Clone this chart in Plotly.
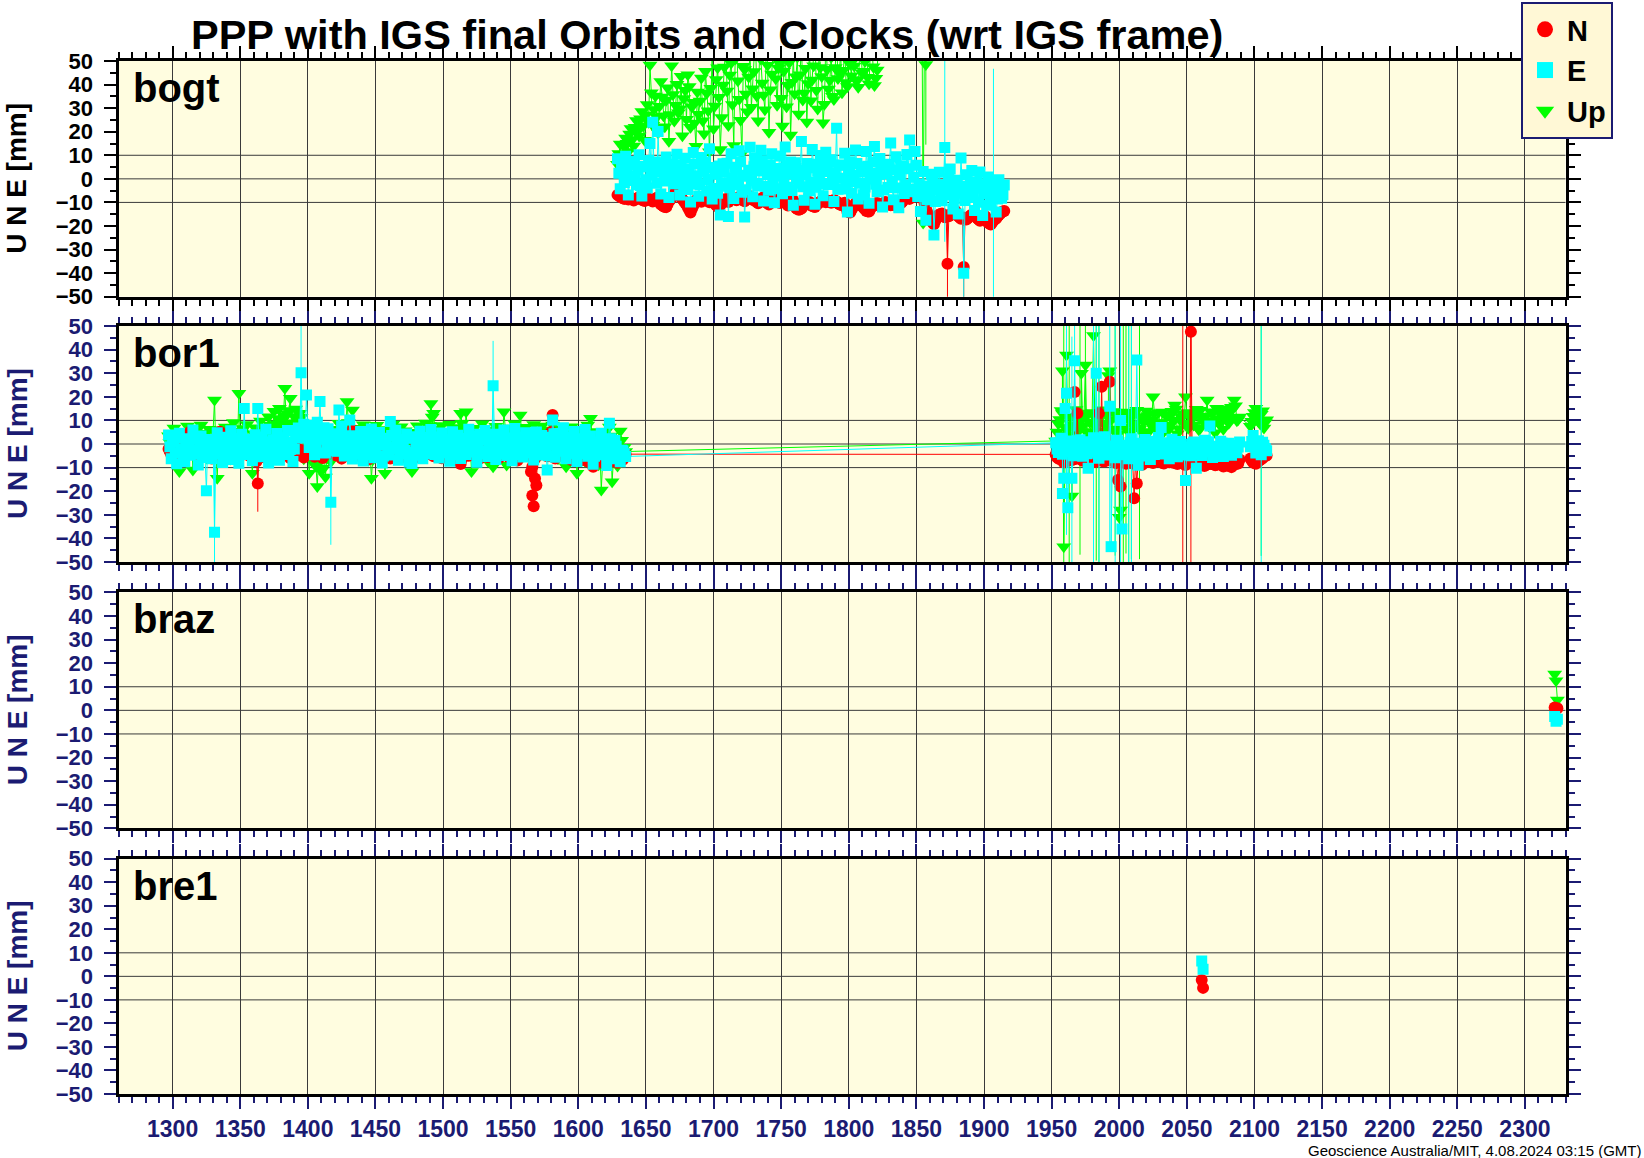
import plotly.graph_objects as go

# ---------------- data (day number, mm) ----------------
# bogt: even grid from day 1629 and odd grid from day 1630, every 2 days
bogt_start, bogt_odd_start = 1629, 1630
bogt_n = [-6.8, -7.6, -8.2, -7.4, -8.8, -8.0, -9.2, -8.4, -7.8, -8.9,
          -9.4, -8.2, -8.7, -9.6, -8.3, -7.9, -10.8, -11.6, -12.0, -9.5,
          -8.1, -6.3, -5.8, -7.2, -8.6, -10.2, -12.1, -14.3, -11.5, -9.2,
          -8.4, -9.7, -7.6, -8.8, -9.9, -8.1, -10.6, -11.8, -11.2, -9.4,
          -8.6, -9.8, -7.9, -8.3, -9.1, -7.7, -8.8, -9.5, -8.2, -7.4,
          -8.9, -9.3, -10.4, -8.6, -7.8, -9.9, -10.9, -9.1, -8.3, -9.6,
          -10.2, -8.7, -9.4, -11.3, -10.5, -9.2, -12.4, -13.1, -12.6, -11.0,
          -10.3, -9.8, -11.5, -11.9, -10.6, -9.7, -8.9, -9.9, -9.3, -10.1,
          -9.0, -9.6, -10.8, -11.2, -10.1, -13.9, -14.3, -12.2, -10.4, -9.7,
          -11.0, -12.3, -13.6, -13.9, -11.8, -10.9, -10.2, -11.5, -11.1, -9.8,
          -10.4, -11.2, -10.7, -11.4, -9.6, -10.1, -8.7, -8.0, -8.5, -7.6,
          -5.6, -6.9, -7.8, -8.3, -12.4, -15.8, -17.6, -19.3, -16.2, -15.1,
          -14.7, -16.3, -36.0, -15.4, -14.2, -13.6, -15.8, -16.9, -37.4, -17.2,
          -16.1, -15.2, -14.6, -16.7, -17.8, -16.4, -15.9, -18.6, -19.4, -17.7,
          -16.8, -15.3, -14.2, -13.6]
bogt_n_odd = [-7.2, -7.9, -8.5, -8.1, -8.4, -8.7, -8.8, -8.1, -8.3, -9.0,
              -8.8, -8.5, -9.1, -9.0, -8.1, -9.2, -11.2, -11.9, -10.8, -8.9,
              -7.2, -6.0, -6.5, -7.9, -9.4, -11.0, -13.2, -12.8, -10.3, -8.8,
              -9.0, -8.6, -8.2, -9.3, -9.0, -9.4, -11.2, -11.5, -10.3, -9.0,
              -9.2, -8.8, -8.1, -8.7, -8.4, -8.3, -9.1, -8.9, -7.8, -8.1,
              -9.1, -9.8, -9.5, -8.2, -8.8, -10.4, -10.0, -8.7, -9.0, -9.9,
              -9.4, -9.0, -10.3, -10.9, -9.8, -10.8, -12.8, -12.9, -11.8, -10.6,
              -10.0, -10.6, -11.7, -11.2, -10.1, -9.3, -9.4, -9.6, -9.7, -9.5,
              -9.3, -10.2, -11.0, -10.6, -12.0, -14.1, -13.2, -11.3, -10.0, -10.4,
              -11.7, -12.9, -13.8, -12.8, -11.3, -10.5, -10.9, -11.3, -10.4, -10.1,
              -10.8, -10.9, -11.1, -10.5, -9.8, -9.4, -8.3, -8.2, -8.0, -6.6,
              -6.2, -7.3, -8.0, -10.2, -14.1, -16.7, -18.5, -17.8, -15.6, -14.9,
              -15.5, -15.8, -15.9, -14.8, -13.9, -14.7, -16.4, -16.3, -16.6, -16.6,
              -15.6, -14.9, -15.7, -17.3, -17.1, -16.1, -17.2, -19.0, -18.5, -17.2,
              -16.0, -14.8, -13.9]
bogt_e = [8.5, -4.2, 3.1, 9.6, -6.8, 1.2, 7.4, -2.5, 10.2, -7.3,
          5.1, -3.9, 15.0, 24.0, 7.2, 20.1, -6.4, 3.5, 9.3, -7.9,
          6.2, -2.1, 10.4, -6.9, 1.8, 8.7, -4.5, -9.8, 11.2, 0.6,
          -7.4, 9.1, 3.3, -5.2, 12.8, -8.6, 2.4, -6.1, -15.3, 6.4,
          -3.1, -16.0, 10.7, -8.3, 4.2, 11.9, -5.7, -16.2, 1.5, 13.4,
          -7.6, 8.8, -2.9, 12.1, -9.4, 5.3, -4.8, 10.6, -10.1, 2.7,
          9.7, -6.3, 13.5, -3.6, 7.1, -11.2, 4.4, -1.9, 15.8, -9.1,
          6.5, -5.1, 12.4, -10.8, 3.2, 9.9, -7.2, 11.3, -2.4, 8.1,
          -9.6, 21.5, 5.8, -4.3, 10.9, -14.1, 7.3, -1.1, 12.2, -8.5,
          4.9, -6.8, 11.6, -10.4, 2.3, 13.7, -5.5, 8.6, -11.9, 6.2,
          -3.7, 15.2, -8.9, 9.4, -12.3, 5.6, -6.2, 10.3, 16.5, -4.4,
          11.6, -7.5, -13.8, 3.1, -17.6, -6.4, 1.9, -23.8, -4.6, 2.8,
          -9.3, 13.3, -2.7, 4.2, -12.8, -0.6, -14.9, 8.8, -40.0, 1.7,
          -7.9, 3.5, -13.4, -1.2, 2.9, -15.6, -4.8, 0.8, -10.7, -3.3,
          -14.1, -0.4, -8.2, -2.6]
bogt_e_odd = [2.4, 5.8, -1.6, 4.3, -0.7, 6.1, 0.2, 3.9, -2.8, 5.2,
              -0.4, 7.8, 1.6, 4.9, -1.9, 2.8, 6.4, -0.9, 3.7, 0.8,
              4.5, -1.2, 2.6, 5.9, -3.4, 0.7, 4.1, -2.2, 6.3, 1.3,
              -2.6, 3.2, 7.1, -0.3, 4.8, -4.1, 1.9, 5.5, -1.7, 2.9,
              6.6, -3.8, 0.4, 4.9, -2.5, 7.3, 1.1, -4.6, 3.6, -0.8,
              5.1, -1.9, 3.3, 7.6, -3.1, 1.8, 6.0, -0.5, -4.2, 4.4,
              1.2, -2.7, 5.6, 2.0, -4.9, 6.8, -0.2, 3.5, -3.3, 1.6,
              4.7, -1.4, 6.2, -3.6, 0.9, 5.4, -2.0, 3.1, 7.0, -0.6,
              2.6, -4.4, 5.9, 0.3, -2.9, 4.0, -6.1, 1.4, 6.5, -1.8,
              3.0, -3.5, 5.3, -0.1, 7.2, -2.3, 1.9, 4.6, -4.7, 2.2,
              6.1, -1.0, 3.8, -3.9, 1.6, 5.0, -2.6, 4.3, -5.5, 0.7,
              5.8, -2.2, -6.5, -3.0, -8.9, -5.2, -1.4, -9.6, -3.7, -7.1,
              -2.5, -6.8, 0.1, -4.4, -8.3, -1.9, -6.0, -3.1, -9.2, -5.4,
              -1.6, -7.7, -4.0, -9.9, -2.8, -6.3, -11.2, -3.5, -7.4, -5.0,
              -8.6, -4.3, -6.7]
bogt_u = [6.2, 14.8, 9.5, 17.3, 11.6, 21.4, 13.9, 24.8, 18.2, 28.6,
          16.4, 31.5, 48.3, 22.7, 35.2, 19.6, 41.3, 26.8, 33.4, 15.9,
          48.0, 24.5, 40.1, 29.7, 18.3, 37.6, 44.2, 21.9, 32.5, 13.8,
          27.4, 42.8, 19.1, 36.3, 11.5, 52.6, 30.9, 47.1, 12.4, 39.8,
          55.3, 22.6, 49.2, 14.1, 58.7, 33.8, 10.9, 46.4, 28.5, 53.9,
          38.2, 61.4, 24.7, 50.8, 35.6, 57.2, 19.8, 44.5, 63.1, 31.2,
          48.9, 22.4, 56.3, 39.7, 18.6, 52.1, 43.3, 27.5, 59.8, 36.4,
          24.1, 54.7, 41.9, 62.3, 29.6, 47.2, 23.8, 57.5, 38.1, 51.6,
          33.7, 60.2, 44.8, 36.5, 55.4, 39.2, 48.6, 64.5, 42.1, 38.9,
          53.8, 45.7, 66.2, 40.3, 58.4, 39.6, 46.2, 61.5, 68.3, 75.2,
          70.4, 82.1, 65.7, 77.9, 69.2, 88.4, 73.6, 64.9, 79.3, 71.8,
          84.6, 68.2, 76.5, -18.7, 48.5, 81.2, 74.9, 86.3, 69.7, 78.4,
          72.6, 83.9, 67.4, 79.8, 88.7, 74.2, 70.5, 85.1, 77.6, 81.9,
          69.4, 76.8, 84.2, 71.3, 78.9, 66.7, 82.5, 73.1, 87.4, 75.6,
          80.3, 72.9, 68.8, 77.4]
bogt_u_odd = [10.8, 8.2, 13.6, 15.1, 19.0, 16.7, 21.9, 20.3, 25.5, 22.4,
              27.1, 24.0, 36.5, 29.4, 26.2, 30.8, 34.7, 22.1, 38.6, 27.3,
              35.8, 31.2, 28.0, 43.5, 34.1, 25.3, 39.2, 30.6, 23.7, 36.9,
              33.0, 24.7, 45.6, 28.9, 38.4, 21.3, 42.2, 34.6, 26.0, 47.5,
              37.3, 44.1, 31.5, 50.9, 41.6, 24.9, 47.8, 36.0, 43.2, 30.4,
              45.5, 35.1, 52.4, 40.7, 29.3, 48.2, 37.8, 54.6, 42.5, 47.0,
              34.2, 45.8, 30.6, 49.3, 41.0, 36.1, 51.7, 44.2, 33.5, 46.9,
              40.5, 33.1, 48.0, 37.6, 52.9, 43.4, 31.7, 46.5, 41.8, 35.0,
              47.2, 42.6, 53.8, 46.1, 40.9, 50.2, 43.7, 47.9, 41.5, 52.6,
              44.9, 49.8, 43.1, 55.0, 47.6, 42.7, 58.1, 64.7, 71.3, 67.8,
              74.5, 79.2, 68.6, 83.1, 72.4, 77.0, 86.2, 69.8, 75.1, 80.6,
              73.3, 79.7, 85.0, 62.4, 70.8, 77.3, 83.6, 71.1, 76.2, 84.9,
              78.1, 70.2, 81.7, 75.4, 68.3, 86.9, 73.9, 79.0, 82.8, 71.6,
              77.7, 84.4, 70.7, 80.1, 74.6, 87.8, 72.2, 79.6, 83.3, 69.9,
              76.3, 81.4, 74.8]
bogt_n_err = {1873: 22, 1885: 18}
bogt_e_err = {1871: 40, 1885: 20, 1907: 50}
bogt_u_err = {1857: 34}

# bor1, segment 1: even grid from 1297, odd grid from 1298
bor1_s1_start, bor1_s1_odd_start = 1297, 1298
bor1_s1_n = [-2.1, -4.3, -1.2, -5.6, -3.4, -0.8, -4.9, -2.7, 5.2, -3.8,
             -1.5, -5.2, -2.9, -0.4, -4.6, -3.1, -6.1, -1.9, -3.5, 5.2,
             -4.2, -2.4, -5.5, -1.1, -3.9, -6.3, -2.2, -4.7, -0.9, -3.3,
             -5.1, -2.6, -4.4, -16.7, -1.7, -3.7, -5.9, -2.3, -4.1, -0.6,
             -3.6, -5.4, -1.8, -4.5, -2.9, -6.0, -3.2, -1.4, -4.8, -2.5,
             -5.7, -3.0, -1.6, -4.2, -5.4, -2.1, -3.8, -5.9, -4.4, -2.7,
             -3.5, -1.3, -4.9, -2.8, -6.2, -3.3, -1.0, -4.6, 5.9, -2.4,
             -5.0, -3.1, -1.7, -4.3, -6.5, -2.6, -3.9, -1.2, -5.3, -3.4,
             -2.0, -4.7, -6.1, -3.0, -1.5, -4.1, -5.6, -2.3, -3.7, -6.4,
             -4.0, -1.8, -3.3, -5.8, -2.5, -4.6, -0.7, -3.9, -5.2, -2.1,
             -3.6, -6.0, -1.9, -4.4, -2.8, -5.3, -3.1, -1.4, -8.5, -4.2,
             -2.6, -5.0, -3.7, -1.6, -4.8, -6.3, -2.2, -3.4, -5.5, -1.9,
             -4.1, -2.7, -6.2, -3.6, -1.3, -4.5, -5.7, -2.9, -3.8, -7.0,
             -4.4, -2.3, -5.1, -3.2, -11.8, -26.4, -17.5, -4.6, -2.0, -3.9,
             -5.2, -3.0, 12.3, -6.1, -2.4, -4.7, -1.6, -5.5, -3.3, -6.8,
             -4.0, -2.2, -5.8, -6.8, -3.1, -7.4, -4.5, -9.6, -5.9, -7.1,
             -6.5, -8.3, -5.2, -7.7, -6.0, -4.4, -7.9, -5.6, -6.7, -4.3]
bor1_s1_n_odd = [-3.2, -2.6, -3.9, -4.1, -2.0, -3.3, -3.6, -1.8, -2.4, -4.4,
                 -3.0, -4.0, -1.7, -2.5, -3.8, -4.5, -2.9, -3.4, -2.2, -4.1,
                 -3.7, -3.0, -2.3, -4.9, -2.7, -3.5, -3.9, -2.0, -4.2, -3.1,
                 -2.8, -3.6, -7.4, -2.5, -4.0, -3.3, -1.9, -4.6, -3.0, -2.6,
                 -4.2, -3.1, -2.4, -3.8, -4.4, -2.7, -3.5, -2.1, -3.9, -3.4,
                 -2.9, -4.1, -3.3, -2.6, -4.8, -3.6, -2.2, -4.3, -3.0, -3.7,
                 -2.5, -3.9, -3.2, -4.5, -2.8, -3.6, -2.1, -2.4, -3.8, -3.0,
                 -4.1, -2.7, -3.5, -3.9, -2.4, -4.6, -3.1, -2.9, -3.7, -4.3,
                 -3.2, -2.6, -4.4, -3.8, -2.7, -3.3, -4.0, -2.8, -4.5, -3.6,
                 -2.9, -3.7, -4.2, -2.5, -3.6, -3.0, -2.3, -4.1, -3.4, -3.8,
                 -4.6, -3.2, -3.0, -3.7, -4.1, -2.6, -3.3, -5.8, -6.4, -3.5,
                 -3.9, -4.2, -2.8, -3.1, -5.1, -3.7, -2.9, -4.4, -3.3, -3.6,
                 -3.4, -4.5, -3.9, -2.5, -3.2, -4.8, -3.7, -3.5, -5.3, -4.1,
                 -3.6, -3.9, -4.2, -5.0, -9.6, -6.1, -3.4, -2.8, -3.1, -4.4,
                 -3.8, 5.1, -4.4, -3.6, -3.2, -3.9, -2.7, -4.6, -4.8, -5.1,
                 -3.3, -4.1, -6.2, -4.9, -5.3, -5.8, -6.6, -7.5, -6.4, -6.0,
                 -7.1, -6.8, -6.3, -6.9, -5.5, -6.7, -6.2, -5.9, -5.0]
bor1_s1_e = [3.8, -6.2, 1.5, -8.4, 4.6, -3.1, -7.5, 2.2, -4.8, 5.9,
             -2.6, -8.9, 3.4, -5.7, -19.8, 1.1, -6.3, -37.4, 4.8, -3.9,
             -7.8, 2.9, -1.4, 5.6, -6.6, 0.3, -8.2, 4.1, 15.0, -4.5,
             1.7, -7.1, 3.9, 15.0, -5.4, -1.8, 6.2, -8.0, 0.9, -3.6,
             4.4, -6.9, 2.1, -4.2, 5.7, -2.3, -7.4, 3.6, 6.8, 30.2,
             8.4, 20.8, -1.5, 7.9, -4.6, 9.2, 18.0, 2.7, -3.8, 6.5,
             -24.7, 4.3, -2.9, 14.4, 7.6, -5.1, 3.2, 10.2, -6.4, 1.9,
             -3.5, 5.3, -7.2, 2.6, -1.1, 6.4, -5.8, 0.7, 4.9, -8.1,
             2.4, -4.7, 9.5, -2.2, 5.8, -6.9, 1.3, -3.3, 4.2, -7.6,
             -8.3, 3.1, -1.9, 5.4, -6.2, 2.8, -4.1, 6.1, -2.7, 0.5,
             -5.9, 4.7, -3.4, 1.6, -7.3, 5.2, -0.8, 3.7, -6.1, 2.3,
             -4.4, 6.3, -2.1, 0.9, -7.7, 4.1, -3.2, 5.7, -5.3, 1.2,
             24.7, -6.6, 3.3, -1.7, 5.9, -4.9, 2.5, -7.1, 6.6, -2.4,
             0.4, -5.5, 4.8, -3.1, 1.8, -6.8, 5.1, -1.3, 3.6, -4.7,
             -11.0, 2.9, 10.2, -5.6, 4.4, -2.8, 6.9, -6.3, 1.4, -3.9,
             5.3, -7.4, 2.2, -0.6, 6.1, -5.2, 3.4, -8.6, 0.8, -4.3,
             4.6, -2.5, -9.1, 8.8, -6.2, 1.5, -4.8, -7.5, -2.9, -5.3]
bor1_s1_e_odd = [-1.2, 0.9, -3.7, 2.6, -2.0, -4.9, 1.4, -0.6, -3.2, 2.1,
                 -4.3, 0.2, -1.8, -5.6, 1.9, -2.9, -0.4, -4.0, 2.8, -1.1,
                 -3.5, 0.7, -5.0, 2.3, -1.7, -3.8, 1.5, -0.3, -4.4, 2.0,
                 -2.2, -5.3, 0.5, -1.0, 3.0, -3.4, -0.8, -4.7, 1.8, -2.5,
                 0.3, -3.9, 2.7, -1.4, -4.5, 1.0, -2.1, 4.2, 2.5, 5.6,
                 3.8, 6.4, 1.2, 4.7, -0.9, 5.5, 2.0, 6.9, 0.6, 3.4,
                 -2.7, 1.6, -3.1, 4.0, -0.5, 2.3, -1.9, 3.5, -4.2, 0.1,
                 -1.6, 2.9, -4.6, 0.4, -2.4, 3.3, -3.0, 1.1, -0.2, -5.1,
                 0.8, -2.6, 3.6, -1.3, 1.9, -4.1, -0.7, -2.8, 2.4, -3.6,
                 -4.8, 0.0, -2.3, 2.5, -3.3, 1.3, -1.5, 3.0, -4.4, -0.6,
                 -2.9, 1.8, -1.2, -3.7, -0.1, 2.6, -4.6, 0.6, -2.0, -0.9,
                 -1.7, 3.2, -3.4, -0.5, -2.6, 1.7, -4.1, 2.4, -1.9, -3.0,
                 4.1, -2.4, 0.9, -4.0, 2.1, -1.4, -3.3, 0.3, 2.9, -4.5,
                 -1.2, -3.7, 1.5, -0.8, -2.9, -4.3, 2.0, -1.8, 0.7, -2.6,
                 -5.0, -0.4, 4.3, -3.1, 0.2, -1.6, 2.8, -3.9, -0.9, -2.2,
                 1.6, -4.0, -1.1, -2.7, 2.5, -3.5, 0.4, -5.2, -1.5, -2.9,
                 1.3, -4.6, -2.3, 2.2, -3.8, -1.0, -5.4, -2.6, -4.1]
bor1_s1_u = [3.5, -4.2, 6.8, -2.1, -11.7, 4.9, -5.3, 7.6, 0.8, -11.0,
             5.4, -3.6, 8.1, 1.2, -5.9, 6.3, -2.7, 18.6, -14.5, 4.4,
             -4.8, 7.2, 2.5, -6.4, 9.1, -1.3, 21.5, 4.7, -3.2, 8.3,
             1.6, -12.4, 6.9, -4.1, 9.7, 3.2, -2.6, 11.5, 5.8, 13.9,
             8.6, 15.2, 10.4, 23.6, 12.7, 19.4, 7.1, 14.8, 9.9, 11.3,
             -6.2, 4.5, -12.4, 2.8, -8.6, -18.0, 1.9, -10.3, -14.0, 5.6,
             -7.5, 6.2, -3.4, 8.8, -1.7, 7.4, 18.0, 3.1, 14.4, -2.9,
             6.6, -4.5, 8.2, 1.4, -6.8, -14.5, 5.3, 7.9, -3.9, 2.6,
             -12.4, 6.1, -2.3, 8.5, 0.9, -5.6, 7.3, 3.8, -7.1, 5.0,
             -11.7, 4.2, 7.7, -3.5, 2.1, 8.9, -1.6, 17.2, 13.0, 6.4,
             -4.4, 7.8, 3.3, -6.3, 8.4, 1.5, -2.8, 7.0, 13.0, 4.6,
             13.7, -3.7, -11.7, 6.7, 2.4, -5.1, 8.6, 0.3, -7.2, 5.8,
             -9.6, 7.5, 3.6, -4.6, 13.7, -8.9, 6.0, -1.2, 8.7, 2.2,
             12.3, -5.3, 7.1, 1.8, -3.0, 8.3, -6.7, 4.0, 7.6, -2.4,
             5.9, -4.8, 8.0, 2.7, -6.2, 6.5, -1.0, -9.6, 4.5, 7.3,
             -3.8, -12.4, 6.3, 1.1, -7.3, 8.1, 10.9, -2.6, 5.2, -8.8,
             -19.5, 4.7, -6.5, 7.2, -16.0, 2.0, -9.3, 5.5, -4.1, -3.2]
bor1_s1_u_odd = [0.6, 2.9, -1.4, 3.8, -3.3, 1.7, 4.5, -2.2, 2.4, -4.6,
                 1.0, 3.9, -1.9, 4.6, -0.7, 2.2, 6.0, -3.4, 1.3, 5.1,
                 0.2, -2.8, 4.0, 1.8, 5.5, -0.9, 3.4, 6.6, 0.5, 2.7,
                 -3.9, 4.3, 1.1, 6.2, -1.6, 3.7, 5.9, 8.1, 2.9, 6.8,
                 10.8, 6.3, 12.1, 9.0, 14.2, 8.4, 11.6, 6.9, 13.0, 7.7,
                 2.5, -2.0, -5.6, 0.8, -9.4, -4.2, -11.5, -1.3, -6.0, 1.5,
                 3.2, -1.5, 4.9, 1.0, 5.8, 2.6, 9.1, 4.3, 6.7, 0.4,
                 3.7, -1.9, 4.8, 0.2, -3.1, -6.7, 2.5, 5.2, -0.8, 3.9,
                 -4.5, 1.6, 3.4, -1.3, 4.8, -2.5, 2.2, 5.6, -0.6, 1.9,
                 -3.8, 2.8, 4.6, 0.9, 3.5, 5.3, 7.8, 11.4, 6.0, 3.1,
                 1.2, 4.0, -1.7, 2.5, 5.1, -0.4, 3.2, 6.3, 8.8, 2.0,
                 5.9, 0.8, -4.9, 3.3, -1.8, 2.1, 4.6, -2.4, 1.0, 3.6,
                 -3.3, 3.8, 0.6, 1.9, 6.8, -2.6, 3.0, 4.4, 5.7, 0.9,
                 6.1, 1.4, 3.6, -1.0, 4.2, 2.6, -1.8, 5.0, 3.1, 0.6,
                 2.3, 1.1, 4.7, -2.1, 3.0, 1.8, 3.3, -3.8, 2.1, 4.1,
                 0.4, -5.0, 3.2, -2.7, 2.5, 4.6, 5.2, -4.4, 2.9, -2.5,
                 -7.4, 1.2, -1.9, 3.4, -6.8, 0.5, -3.1, 1.6, -1.4]

# bor1, segment 2: even grid from 1953, odd grid from 1954
bor1_s2_start, bor1_s2_odd_start = 1953, 1954
bor1_s2_n = [-4.4, -6.2, -5.1, -7.8, -5.9, -4.7, -6.8, 22.0, 13.0, -5.5,
             -7.1, -4.9, -6.4, -8.2, -5.3, -6.9, 13.0, 24.3, -7.4, -5.8,
             26.4, -6.1, -7.9, -15.3, -18.0, -6.6, -8.4, -5.2, -7.3, -23.0,
             -16.7, -6.3, -8.8, -5.7, -7.5, -6.2, -8.1, -4.9, -7.0, -6.5,
             -8.3, -5.4, -7.7, -6.8, -5.1, -8.5, -6.0, -7.4, -8.9, -6.3,
             47.6, -7.2, -8.6, -6.1, -7.9, -9.3, -6.7, -8.4, -7.6, -9.0,
             -8.2, -6.9, -9.5, -7.8, -8.7, -9.8, -7.3, -8.1, -6.6]
bor1_s2_n_odd = [-5.6, -6.4, -6.0, -5.2, -7.1, -5.9, -6.6, -6.3, -4.8, -6.7,
                 -6.0, -7.2, -5.5, -6.8, -7.6, -5.9, -6.4, -7.3, -5.7, -6.9,
                 -7.0, -6.2, -8.0, -6.7, -7.4, -6.1, -7.9, -6.5, -8.3, -6.8,
                 -7.2, -6.6, -7.8, -6.9, -7.5, -6.3, -7.6, -6.8, -7.3, -8.1,
                 -6.7, -7.5, -6.4, -7.9, -7.1, -6.6, -8.2, -7.3, -6.9, -7.7,
                 -7.4, -8.3, -7.8, -8.7, -7.2, -8.9, -8.0, -8.5, -7.6, -8.8,
                 -8.1, -8.9, -7.7, -9.2, -8.4, -9.0, -8.6, -8.3]
bor1_s2_e = [0.5, -3.6, 2.4, -14.5, 21.5, -2.8, -14.5, 35.3, -4.1, 1.8,
             -5.2, 0.6, -10.3, -3.3, 2.7, 30.0, -6.0, -1.5, 3.1, -4.7,
             16.0, -2.2, -5.8, 1.3, 10.0, -3.9, -0.7, -6.3, 2.2, -4.4,
             35.6, -1.6, -5.1, 1.9, -3.0, -6.6, 0.4, -2.5, 2.8, 7.0,
             -4.2, -0.9, -6.2, 2.0, -2.9, -5.4, 1.1, -3.6, -15.5, -1.3,
             -5.0, 0.8, -10.3, -2.4, -4.9, 1.6, -3.3, 7.6, -5.7, -1.0,
             -4.0, 1.2, -5.3, -2.0, 0.3, -4.8, -1.5, -3.7, 0.9]
bor1_s2_e_odd = [-2.1, 0.4, -4.3, -1.0, -3.2, 1.3, -5.0, -1.9, 0.2, -3.6,
                 -1.3, -4.1, 1.0, -2.5, -0.3, -3.9, -1.7, 0.9, -4.4, -2.0,
                 -0.8, -3.4, 1.6, -2.7, -4.6, -0.5, -2.2, 0.6, -3.8, -1.4,
                 -4.2, 0.3, -1.9, -3.0, 1.2, -2.6, -4.5, -0.9, -2.3, 0.5,
                 -3.5, -1.1, -4.0, 0.8, -2.4, -3.3, -0.2, -4.7, -1.6, -2.9,
                 0.1, -3.7, -1.2, -4.3, -0.7, -2.5, 1.0, -3.1, -1.8, -4.0,
                 -2.2, 0.4, -3.5, -1.0, -4.1, -0.6, -2.8, -1.3]
bor1_s2_u = [1.3, 8.6, 14.2, -43.5, 37.7, 6.9, -22.0, 11.4, 4.8, 13.1,
             7.5, 33.5, 12.8, 5.3, 46.0, 10.6, 3.9, 14.5, 8.2, 11.9,
             31.0, 6.4, 12.7, 4.1, -28.0, 9.8, 13.6, 5.7, 11.2, 7.9,
             14.3, 6.2, 10.5, 4.6, 12.1, 8.4, 20.0, 6.8, 13.3, 9.1,
             5.2, 11.8, 7.4, 13.9, 16.5, 4.3, 10.2, 12.6, 20.0, 6.7,
             12.4, 8.1, 14.7, 5.9, 11.3, 9.6, 18.6, 7.2, 13.0, 4.8,
             10.7, 14.1, 6.3, 12.5, 8.8, 15.6, 18.6, 9.9, 11.4]
bor1_s2_u_odd = [5.1, 10.4, 12.9, 7.0, 3.8, 11.7, 8.3, 14.6, 6.2, 9.8,
                 12.1, 4.9, 9.3, 13.4, 7.6, 10.9, 5.5, 12.7, 8.8, 6.1,
                 10.3, 13.8, 5.9, 9.2, 12.4, 7.1, 11.0, 4.4, 13.1, 8.6,
                 6.9, 11.6, 9.5, 14.0, 5.3, 10.1, 12.9, 7.8, 9.0, 13.6,
                 8.1, 5.6, 12.2, 9.7, 14.8, 6.5, 11.4, 8.9, 13.3, 7.3,
                 10.6, 12.8, 6.8, 14.3, 9.4, 11.9, 7.7, 13.7, 10.0, 15.1,
                 8.5, 12.3, 14.9, 9.6, 13.5, 11.1, 16.2, 10.4]

# bor1, segment 3: even grid from 2097, odd grid from 2098
bor1_s3_start, bor1_s3_odd_start = 2097, 2098
bor1_s3_n = [-6.1, -7.8, -8.4, -7.2, -6.5, -5.3, -4.9]
bor1_s3_n_odd = [-7.0, -8.1, -7.6, -6.8, -5.9, -5.1]
bor1_s3_e = [-1.2, 3.6, -3.8, 1.4, -4.6, -0.5, -2.9]
bor1_s3_e_odd = [1.1, -0.4, -2.1, -1.6, 0.7, -1.9]
bor1_s3_u = [7.5, 11.8, 15.2, 9.4, 12.6, 6.8, 10.3]
bor1_s3_u_odd = [9.6, 13.4, 11.2, 8.7, 14.1, 9.1]

# bor1 isolated extra observations (day, value)
bor1_n_extra = [(1566, -21.8), (1568, -14.6)]
bor1_e_extra = [(1958, -21.0), (1960, 15.0), (1962, -27.0), (1994, -43.5),
                (2002, -36.0), (2014, -9.0)]
bor1_u_extra = [(1958, 31.0), (1972, 30.0), (1992, 29.0), (2000, -31.0)]
bor1_n_err = {1363: 12, 2047: 60, 2053: 100}
bor1_e_err = {1331: 30, 1395: 25, 1417: 18, 1537: 19, 1961: 60, 1965: 60,
              1967: 30, 1981: 60, 1983: 35, 1985: 60, 1993: 60, 1997: 60,
              2001: 60, 2007: 60, 2009: 60, 2105: 60}
bor1_u_err = {1959: 95, 1963: 70, 1971: 60, 1975: 25, 1983: 60, 1985: 60,
              1997: 60, 2003: 60, 2005: 60, 2007: 60, 2009: 60, 2015: 55,
              2105: 60}

# braz
braz_day = [2322, 2323, 2324]
braz_n = [1.2, 0.6, 0.9]
braz_e = [-2.6, -4.6, -3.8]
braz_u = [15.4, 12.6, 4.4]

# bre1
bre1_day = [2061, 2062]
bre1_n = [-1.6, -4.9]
bre1_e = [6.5, 3.0]

station_names = ["bogt", "bor1", "braz", "bre1"]
x_tick_start, x_tick_step = 1300, 50
x_range = [1260, 2330]
y_range = [-50, 50]
y_grid_values = [-10, 0, 10]
title_text = "PPP with IGS final Orbits and Clocks (wrt IGS frame)"
footer_text = "Geoscience Australia/MIT, 4.08.2024 03:15 (GMT)"
y_title_text = "U N E [mm]"


# ---------------- helpers ----------------
def grid_series(segments, extra=(), err=None):
    pts = []
    for start, vals in segments:
        pts += [(start + 2 * i, v) for i, v in enumerate(vals)]
    pts += list(extra)
    pts.sort(key=lambda p: p[0])
    days = [p[0] for p in pts]
    vals = [p[1] for p in pts]
    errs = [(err or {}).get(d, 0) for d in days]
    return days, vals, errs


def explicit(days, vals):
    return list(days), list(vals), [0] * len(days)


bogt_N = grid_series([(bogt_start, bogt_n), (bogt_odd_start, bogt_n_odd)], err=bogt_n_err)
bogt_E = grid_series([(bogt_start, bogt_e), (bogt_odd_start, bogt_e_odd)], err=bogt_e_err)
bogt_U = grid_series([(bogt_start, bogt_u), (bogt_odd_start, bogt_u_odd)], err=bogt_u_err)
bor1_N = grid_series([(bor1_s1_start, bor1_s1_n), (bor1_s1_odd_start, bor1_s1_n_odd),
                      (bor1_s2_start, bor1_s2_n), (bor1_s2_odd_start, bor1_s2_n_odd),
                      (bor1_s3_start, bor1_s3_n), (bor1_s3_odd_start, bor1_s3_n_odd)],
                     bor1_n_extra, bor1_n_err)
bor1_E = grid_series([(bor1_s1_start, bor1_s1_e), (bor1_s1_odd_start, bor1_s1_e_odd),
                      (bor1_s2_start, bor1_s2_e), (bor1_s2_odd_start, bor1_s2_e_odd),
                      (bor1_s3_start, bor1_s3_e), (bor1_s3_odd_start, bor1_s3_e_odd)],
                     bor1_e_extra, bor1_e_err)
bor1_U = grid_series([(bor1_s1_start, bor1_s1_u), (bor1_s1_odd_start, bor1_s1_u_odd),
                      (bor1_s2_start, bor1_s2_u), (bor1_s2_odd_start, bor1_s2_u_odd),
                      (bor1_s3_start, bor1_s3_u), (bor1_s3_odd_start, bor1_s3_u_odd)],
                     bor1_u_extra, bor1_u_err)
braz_N = explicit(braz_day, braz_n)
braz_E = explicit(braz_day, braz_e)
braz_U = explicit(braz_day, braz_u)
bre1_N = explicit(bre1_day, bre1_n)
bre1_E = explicit(bre1_day, bre1_e)

panel_series = [
    {"U": bogt_U, "N": bogt_N, "E": bogt_E},
    {"U": bor1_U, "N": bor1_N, "E": bor1_E},
    {"U": braz_U, "N": braz_N, "E": braz_E},
    {"N": bre1_N, "E": bre1_E},
]

# ---------------- styling ----------------
W, H = 1644, 1158
NAVY = "#1b1b72"
BG = "#FFFDE0"
FONT = "Liberation Sans"
COLORS = {"N": "#FF0000", "E": "#00FFFF", "U": "#00FF00"}
SYMBOLS = {"N": "circle", "E": "square", "U": "triangle-down"}
SIZES = {"N": 12, "E": 11, "U": 13}
NAMES = {"N": "N", "E": "E", "U": "Up"}

XL, XR = 118.5 / W, 1565.5 / W
panels_px = [(61.0, 296.7), (326.0, 562.0), (592.4, 828.3), (858.7, 1094.0)]


def sfx(k):
    return "" if k == 1 else str(k)


fig = go.Figure()

for k, series in enumerate(panel_series, start=1):
    for comp in ["U", "N", "E"]:
        if comp not in series:
            continue
        d, v, e = series[comp]
        fig.add_trace(go.Scatter(
            x=d, y=v, mode="lines+markers", xaxis="x" + sfx(k), yaxis="y" + sfx(k),
            showlegend=False, hoverinfo="skip",
            line=dict(color=COLORS[comp], width=1),
            marker=dict(symbol=SYMBOLS[comp], size=SIZES[comp],
                        color=COLORS[comp], line=dict(width=0)),
            error_y=dict(type="data", array=e, visible=True, thickness=1,
                         width=0, color=COLORS[comp]),
        ))

# legend entries
for rank, comp in enumerate(["N", "E", "U"]):
    fig.add_trace(go.Scatter(
        x=[None], y=[None], mode="markers", name=NAMES[comp],
        xaxis="x", yaxis="y", legendrank=rank + 1,
        marker=dict(symbol=SYMBOLS[comp], size=16, color=COLORS[comp],
                    line=dict(width=0)),
    ))

layout = dict(
    width=W, height=H, margin=dict(l=0, r=0, t=0, b=0, autoexpand=False),
    paper_bgcolor="white", plot_bgcolor=BG,
    font=dict(family=FONT, color="black"),
    legend=dict(x=1521 / W, y=1 - 2 / H, xanchor="left", yanchor="top",
                bgcolor="#FFF8D6", bordercolor=NAVY, borderwidth=2,
                font=dict(family=FONT, size=29, color="black", weight="bold"),
                itemsizing="trace", tracegroupgap=0, itemwidth=34),
    showlegend=True,
)

shapes = []
annotations = []
for k, (top, bot) in enumerate(panels_px, start=1):
    s = sfx(k)
    col = "black" if k == 1 else NAVY
    ydom = [1 - bot / H, 1 - top / H]
    layout["xaxis" + s] = dict(
        domain=[XL, XR], range=x_range, anchor="y" + s, automargin=False,
        showline=True, linewidth=3, linecolor="black", mirror="ticks",
        ticks="outside", ticklen=12, tickwidth=2, tickcolor=col,
        tick0=x_tick_start, dtick=x_tick_step,
        showgrid=True, gridcolor="#3a3a3a", gridwidth=1, zeroline=False,
        showticklabels=(k == 4), ticklabelstandoff=0,
        tickfont=dict(family=FONT, size=23, color=NAVY, weight="bold"),
        minor=dict(dtick=10, tick0=x_tick_start, ticklen=6, tickwidth=2,
                   tickcolor=col, ticks="outside", showgrid=False),
    )
    layout["yaxis" + s] = dict(
        domain=ydom, range=y_range, anchor="x" + s, automargin=False,
        showline=True, linewidth=3, linecolor="black", mirror="ticks",
        ticks="outside", ticklen=12, tickwidth=2, tickcolor=col,
        tick0=0, dtick=10, showgrid=False, zeroline=False,
        ticklabelstandoff=6,
        tickfont=dict(family=FONT, size=22, color=col, weight="bold"),
        minor=dict(dtick=5, ticklen=6, tickwidth=2, tickcolor=col,
                   ticks="outside", showgrid=False),
    )
    for gv in y_grid_values:
        shapes.append(dict(type="line", xref="x" + s + " domain", x0=0, x1=1,
                           yref="y" + s, y0=gv, y1=gv, layer="below",
                           line=dict(color="#3a3a3a", width=1)))
    annotations.append(dict(
        text=y_title_text, textangle=-90, xref="paper", yref="paper",
        x=17 / W, y=(ydom[0] + ydom[1]) / 2, xanchor="center", yanchor="middle",
        showarrow=False,
        font=dict(family=FONT, size=28, color=col, weight="bold")))
    annotations.append(dict(
        text=station_names[k - 1], xref="x" + s + " domain", yref="y" + s + " domain",
        x=12 / 1447, y=1 - 3 / 236, xanchor="left", yanchor="top",
        showarrow=False,
        font=dict(family=FONT, size=40, color="black", weight="bold")))

annotations.append(dict(
    text=title_text, xref="paper", yref="paper", x=707 / W, y=1 - 35 / H,
    xanchor="center", yanchor="middle", showarrow=False,
    font=dict(family=FONT, size=41.5, color="black", weight="bold")))
annotations.append(dict(
    text=footer_text, xref="paper", yref="paper", x=1.0, y=1 - 1150 / H,
    xanchor="right", yanchor="middle", showarrow=False,
    font=dict(family=FONT, size=15, color="black")))

layout["shapes"] = shapes
layout["annotations"] = annotations
fig.update_layout(**layout)

fig.write_html("out.html")
